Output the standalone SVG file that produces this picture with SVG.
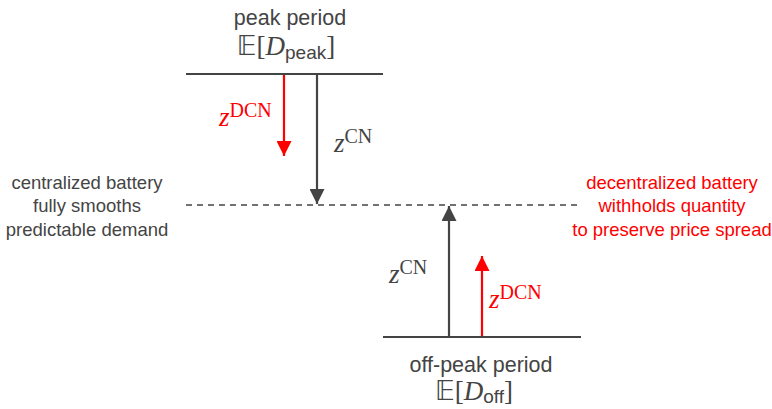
<svg xmlns="http://www.w3.org/2000/svg" width="772" height="409" viewBox="0 0 772 409">
<defs>
<style>
.sans{font-family:"Liberation Sans","DejaVu Sans",sans-serif;}
.serif{font-family:"Liberation Serif","DejaVu Serif",serif;}
.dark{fill:#444444;}
.red{fill:#ff0000;}
.lvl{stroke:#444444;stroke-width:2;fill:none;}
.ad{stroke:#444444;stroke-width:2.2;fill:none;}
.ar{stroke:#ff0000;stroke-width:2.2;fill:none;}
</style>
<marker id="hd" viewBox="0 0 10 10" refX="10" refY="5" markerUnits="userSpaceOnUse" markerWidth="15" markerHeight="15" orient="auto"><path d="M0,0 L10,5 L0,10 z" fill="#444444"/></marker>
<marker id="hr" viewBox="0 0 10 10" refX="10" refY="5" markerUnits="userSpaceOnUse" markerWidth="15" markerHeight="15" orient="auto"><path d="M0,0 L10,5 L0,10 z" fill="#ff0000"/></marker>
</defs>
<g id="peak">
<line class="lvl" x1="186" y1="74" x2="383" y2="74"/>
<text class="sans dark" x="290" y="25" font-size="21.5" text-anchor="middle">peak period</text>
<text class="dark" x="286" y="55" font-size="27" text-anchor="middle"><tspan font-family="DejaVu Sans, sans-serif">𝔼</tspan><tspan class="serif">[</tspan><tspan class="serif" font-style="italic">D</tspan><tspan class="sans" font-size="19" dy="4">peak</tspan><tspan class="serif" dy="-4">]</tspan></text>
</g>
<g id="offpeak">
<line class="lvl" x1="383" y1="337" x2="581" y2="337"/>
<text class="sans dark" x="481" y="372" font-size="21.5" text-anchor="middle">off-peak period</text>
<text class="dark" x="474" y="400" font-size="27" text-anchor="middle"><tspan font-family="DejaVu Sans, sans-serif">𝔼</tspan><tspan class="serif">[</tspan><tspan class="serif" font-style="italic">D</tspan><tspan class="sans" font-size="19" dy="3">off</tspan><tspan class="serif" dy="-3">]</tspan></text>
</g>
<g id="smoothed">
<line x1="186" y1="205" x2="580" y2="205" stroke="#444444" stroke-width="1.5" stroke-dasharray="6,5"/>
</g>
<g id="left-note">
<text class="sans dark" font-size="18.5" text-anchor="middle"><tspan x="87" y="189">centralized battery</tspan><tspan x="87" y="212">fully smooths</tspan><tspan x="87" y="236">predictable demand</tspan></text>
</g>
<g id="right-note">
<text class="sans red" font-size="18.5" text-anchor="middle"><tspan x="672" y="189">decentralized battery</tspan><tspan x="672" y="212">withholds quantity</tspan><tspan x="672" y="236">to preserve price spread</tspan></text>
</g>
<g id="connectors">
<line class="ar" x1="284" y1="75" x2="284" y2="156" marker-end="url(#hr)"/>
<line class="ad" x1="317" y1="75" x2="317" y2="204" marker-end="url(#hd)"/>
<line class="ad" x1="449" y1="336" x2="449" y2="206" marker-end="url(#hd)"/>
<line class="ar" x1="482" y1="336" x2="482" y2="256" marker-end="url(#hr)"/>
</g>
<g id="labels">
<text class="serif red" x="219" y="126" font-size="27"><tspan font-style="italic">z</tspan><tspan font-size="20" dy="-9">DCN</tspan></text>
<text class="serif dark" x="334" y="152" font-size="27"><tspan font-style="italic">z</tspan><tspan font-size="20" dy="-9">CN</tspan></text>
<text class="serif dark" x="389" y="283" font-size="27"><tspan font-style="italic">z</tspan><tspan font-size="20" dy="-9">CN</tspan></text>
<text class="serif red" x="489" y="308" font-size="27"><tspan font-style="italic">z</tspan><tspan font-size="20" dy="-9">DCN</tspan></text>
</g>
</svg>
